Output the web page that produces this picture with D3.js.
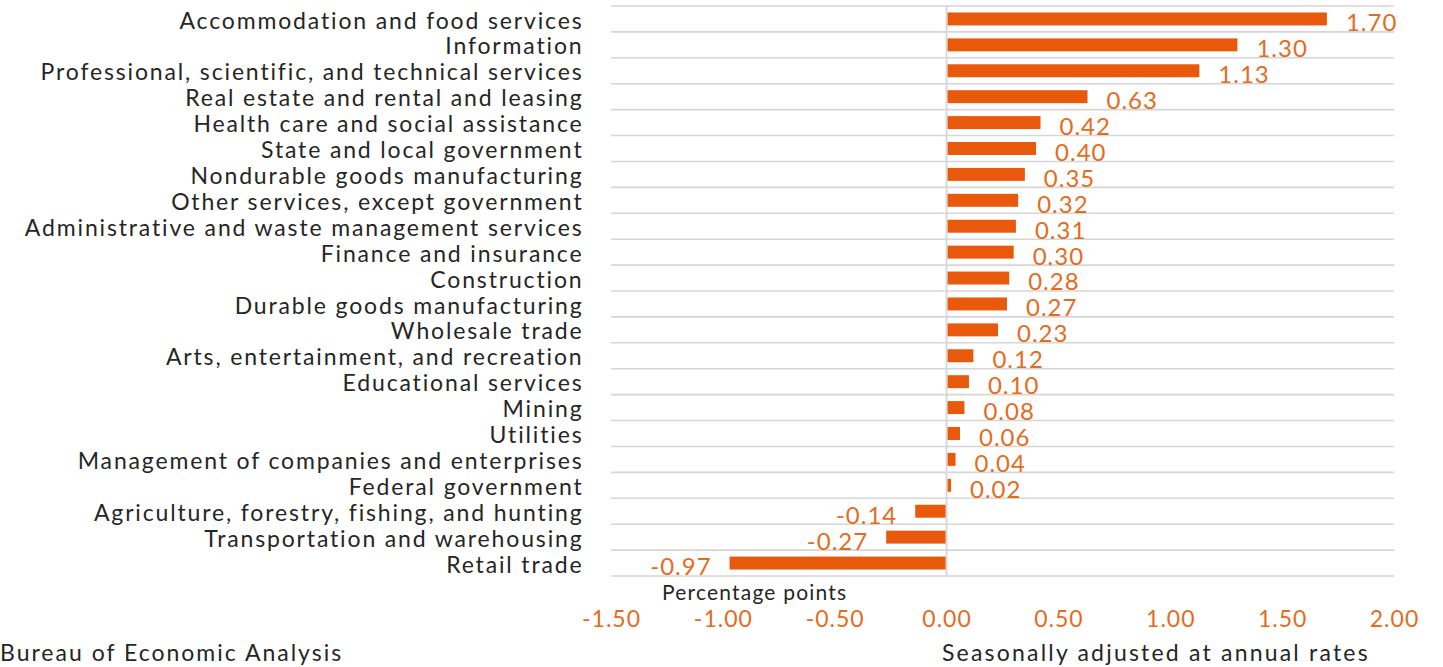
<!DOCTYPE html>
<html>
<head>
<meta charset="utf-8">
<script src="https://cdn.jsdelivr.net/npm/d3@7"></script>
<style>
  html, body { margin: 0; padding: 0; background: #fff; }
  svg { display: block; }
  text { font-family: Lato, "Open Sans", sans-serif; }
</style>
</head>
<body>
<svg id="chart" width="1443" height="667"></svg>
<script>
// Contributions to percent change in real GDP by industry (percentage points)
const industries = [
  "Accommodation and food services",
  "Information",
  "Professional, scientific, and technical services",
  "Real estate and rental and leasing",
  "Health care and social assistance",
  "State and local government",
  "Nondurable goods manufacturing",
  "Other services, except government",
  "Administrative and waste management services",
  "Finance and insurance",
  "Construction",
  "Durable goods manufacturing",
  "Wholesale trade",
  "Arts, entertainment, and recreation",
  "Educational services",
  "Mining",
  "Utilities",
  "Management of companies and enterprises",
  "Federal government",
  "Agriculture, forestry, fishing, and hunting",
  "Transportation and warehousing",
  "Retail trade"
];
const contributions = [
  1.70, 1.30, 1.13, 0.63, 0.42, 0.40, 0.35, 0.32, 0.31, 0.30, 0.28,
  0.27, 0.23, 0.12, 0.10, 0.08, 0.06, 0.04, 0.02, -0.14, -0.27, -0.97
];
const xTicks = [-1.5, -1.0, -0.5, 0.0, 0.5, 1.0, 1.5, 2.0];
const axisTitle = "Percentage points";
const sourceNote = "Bureau of Economic Analysis";
const rateNote = "Seasonally adjusted at annual rates";

const data = industries.map((name, i) => ({ name, value: contributions[i] }));

const barColor = "#E8590C";
const numColor = "#E46C1E";
const gridColor = "#D6D6D6";
const textColor = "#262626";

const svg = d3.select("#chart");

const x = d3.scaleLinear().domain([-1.5, 2.0]).range([611, 1394]);
const y = d3.scaleBand()
  .domain(industries)
  .range([6, 576])
  .paddingInner(0.5)
  .paddingOuter(0.25);
const step = y.step();
const plotTop = y.range()[0];

// horizontal gridlines between categories
svg.append("g")
  .selectAll("line")
  .data(d3.range(industries.length + 1))
  .join("line")
  .attr("x1", x.range()[0])
  .attr("x2", x.range()[1])
  .attr("y1", i => plotTop + i * step)
  .attr("y2", i => plotTop + i * step)
  .attr("stroke", gridColor)
  .attr("stroke-width", 1.6);

// zero line
svg.append("line")
  .attr("x1", x(0)).attr("x2", x(0))
  .attr("y1", plotTop).attr("y2", plotTop + industries.length * step)
  .attr("stroke", gridColor)
  .attr("stroke-width", 1.8);

// bars
svg.append("g")
  .selectAll("rect")
  .data(data)
  .join("rect")
  .attr("x", d => x(Math.min(0, d.value)) + (d.value >= 0 ? 1 : 0))
  .attr("width", d => Math.max(1, Math.abs(x(d.value) - x(0)) - 1))
  .attr("y", d => y(d.name))
  .attr("height", y.bandwidth())
  .attr("fill", barColor);

// value labels
svg.append("g")
  .selectAll("text")
  .data(data)
  .join("text")
  .attr("x", d => d.value >= 0 ? x(d.value) + 19 : x(d.value) - 18)
  .attr("y", d => y(d.name) + y.bandwidth() / 2 + 4)
  .attr("dy", "0.35em")
  .attr("text-anchor", d => d.value >= 0 ? "start" : "end")
  .attr("fill", numColor)
  .style("font-size", "24px")
  .style("letter-spacing", "1px")
  .text(d => d.value.toFixed(2));

// category labels
svg.append("g")
  .selectAll("text")
  .data(data)
  .join("text")
  .attr("x", 583.5)
  .attr("y", d => y(d.name) + y.bandwidth() / 2 + 1.5)
  .attr("dy", "0.35em")
  .attr("text-anchor", "end")
  .attr("fill", textColor)
  .style("font-size", "23px")
  .style("letter-spacing", "1.85px")
  .text(d => d.name);

// x axis
const xAxis = d3.axisBottom(x)
  .tickValues(xTicks)
  .tickSize(0)
  .tickPadding(0)
  .tickFormat(d => d.toFixed(2));

const gx = svg.append("g")
  .attr("transform", "translate(0,609)")
  .call(xAxis);
gx.select(".domain").remove();
gx.selectAll("text")
  .attr("fill", numColor)
  .attr("dy", "0.35em")
  .attr("y", 10)
  .style("font-size", "23px")
  .style("letter-spacing", "1px")
  .style("font-family", "Lato, sans-serif");

svg.append("text")
  .attr("x", 662)
  .attr("y", 593)
  .attr("dy", "0.35em")
  .attr("fill", textColor)
  .style("font-size", "21px")
  .style("letter-spacing", "1.2px")
  .text(axisTitle);

svg.append("text")
  .attr("x", 0)
  .attr("y", 653)
  .attr("dy", "0.35em")
  .attr("fill", textColor)
  .style("font-size", "23px")
  .style("letter-spacing", "2px")
  .text(sourceNote);

svg.append("text")
  .attr("x", 942)
  .attr("y", 653)
  .attr("dy", "0.35em")
  .attr("fill", textColor)
  .style("font-size", "23px")
  .style("letter-spacing", "2.2px")
  .text(rateNote);
</script>
</body>
</html>
